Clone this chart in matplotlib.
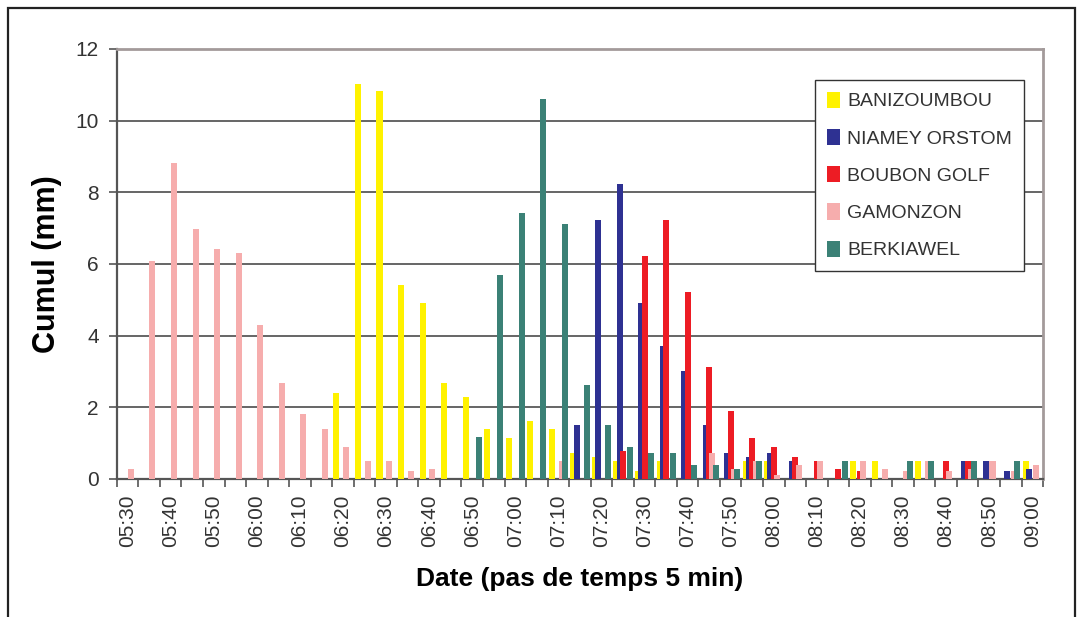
import matplotlib
matplotlib.use('Agg')
import matplotlib.pyplot as plt
import numpy as np
from matplotlib.patches import Rectangle

plt.rcParams['font.family'] = 'Liberation Sans'
plt.rcParams['text.color'] = '#333333'
plt.rcParams['xtick.color'] = '#555555'
plt.rcParams['ytick.color'] = '#555555'
plt.rcParams['xtick.labelcolor'] = '#333333'
plt.rcParams['ytick.labelcolor'] = '#333333'

# 5-minute time steps, 05:30 -> 09:00
times = [f'{5 + (30 + 5 * i) // 60:02d}:{(30 + 5 * i) % 60:02d}' for i in range(43)]

banizoumbou = [0, 0, 0, 0, 0, 0, 0, 0, 0, 0,
               2.41, 11.01, 10.84, 5.42, 4.92, 2.69, 2.30, 1.40, 1.13, 1.63,
               1.40, 0.73, 0.62, 0.51, 0.22, 0.51, 0, 0, 0, 0.51,
               0.51, 0, 0, 0, 0.51, 0.51, 0, 0.51, 0, 0,
               0, 0, 0.51]
niamey_orstom = [0, 0, 0, 0, 0, 0, 0, 0, 0, 0,
                 0, 0, 0, 0, 0, 0, 0, 0, 0, 0,
                 0, 1.52, 7.22, 8.22, 4.92, 3.70, 3.02, 1.52, 0.73, 0.62,
                 0.73, 0.51, 0, 0, 0, 0, 0, 0, 0, 0.51,
                 0.51, 0.22, 0.29]
boubon_golf = [0, 0, 0, 0, 0, 0, 0, 0, 0, 0,
               0, 0, 0, 0, 0, 0, 0, 0, 0, 0,
               0, 0, 0, 0.79, 6.21, 7.22, 5.21, 3.13, 1.91, 1.13,
               0.90, 0.62, 0.51, 0.29, 0.22, 0, 0, 0, 0.51, 0.51,
               0, 0, 0]
gamonzon = [0.29, 6.09, 8.83, 6.99, 6.43, 6.32, 4.31, 2.69, 1.80, 1.40,
            0.90, 0.51, 0.51, 0.23, 0.29, 0, 0, 0, 0, 0,
            0.51, 0, 0, 0, 0, 0, 0, 0.73, 0.29, 0.51,
            0.11, 0.40, 0.51, 0, 0.51, 0.29, 0.22, 0.51, 0.22, 0.29,
            0.51, 0.22, 0.40]
berkiawel = [0, 0, 0, 0, 0, 0, 0, 0, 0, 0,
             0, 0, 0, 0, 0, 0, 1.18, 5.70, 7.43, 10.61,
             7.11, 2.63, 1.52, 0.90, 0.73, 0.73, 0.40, 0.40, 0.29, 0.51,
             0, 0, 0, 0.51, 0, 0, 0.51, 0.51, 0, 0.51,
             0, 0.51, 0]

series = [
    ('BANIZOUMBOU', banizoumbou, '#FFF200'),
    ('NIAMEY ORSTOM', niamey_orstom, '#2E3192'),
    ('BOUBON GOLF', boubon_golf, '#ED1C24'),
    ('GAMONZON', gamonzon, '#F6ADAD'),
    ('BERKIAWEL', berkiawel, '#3B8176'),
]

fig = plt.figure(figsize=(10.82, 6.17), dpi=100)
ax = fig.add_axes([0.108, 0.2237, 0.856, 0.6969])

x = np.arange(len(times))
step = 0.153
width = 0.28
for i, (name, vals, col) in enumerate(series):
    ax.bar(x + (i - 2) * step, vals, width, color=col, label=name,
           linewidth=0, zorder=3 + i)

ax.set_xlim(-0.5, len(times) - 0.5)
ax.set_ylim(0, 12)

# y axis
ax.set_yticks(range(0, 13, 2))
ax.tick_params(axis='y', length=6, width=1.2, pad=7, labelsize=15)
ax.set_axisbelow(True)
ax.yaxis.grid(True, color='#3c3c3c', linewidth=1.1)

# x axis: labels every 10 min, tick marks between categories
ax.set_xticks(x[::2])
ax.set_xticklabels(times[::2], rotation=90)
ax.tick_params(axis='x', which='major', length=0, pad=11, labelsize=15)
ax.set_xticks(np.arange(-0.5, len(times), 1), minor=True)
ax.tick_params(axis='x', which='minor', length=6, width=1.2)

for s in ['left', 'bottom']:
    ax.spines[s].set_color('#555555')
    ax.spines[s].set_linewidth(1.6)
for s in ['top', 'right']:
    ax.spines[s].set_color('#a39a9a')
    ax.spines[s].set_linewidth(2.0)

ax.set_xlabel('Date (pas de temps 5 min)', fontsize=19, fontweight='bold')
ax.xaxis.set_label_coords(0.5, -0.205)
ax.set_ylabel('Cumul (mm)', fontsize=22, fontweight='bold')
ax.yaxis.label.set_va('center')
ax.yaxis.set_label_coords(-0.0755, 0.5)

leg = ax.legend(loc='upper left', bbox_to_anchor=(0.754, 0.928), frameon=True,
                fancybox=False, edgecolor='#333333', framealpha=1, fontsize=14,
                labelspacing=0.95, handlelength=0.7, handleheight=0.9,
                handletextpad=0.35, borderpad=0.6, borderaxespad=0)
leg.get_frame().set_linewidth(1.0)
leg.set_zorder(10)

# outer frame around the chart
fig.patches.append(Rectangle((8 / 1082, -0.05), 1067 / 1082, 1.037,
                             transform=fig.transFigure, fill=False,
                             edgecolor='#222222', linewidth=1.6))

fig.savefig('out.png', dpi=100)
